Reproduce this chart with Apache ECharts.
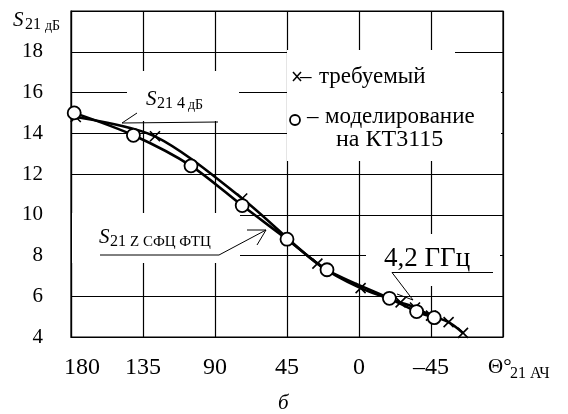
<!DOCTYPE html>
<html>
<head>
<meta charset="utf-8">
<script src="https://cdn.jsdelivr.net/npm/echarts@6/dist/echarts.min.js"></script>
<style>
  html, body { margin: 0; padding: 0; background: #fff; }
  #chart { width: 568px; height: 414px; }
</style>
</head>
<body>
<div id="chart"></div>
<script>
// требуемый (крестики)
const reqTheta = [177, 127.5, 73, 26, -1, -26, -35, -45, -56, -65];
const reqS21 = [14.8, 13.85, 10.8, 7.6, 6.4, 5.7, 5.45, 5.05, 4.73, 4.2];
// моделирование на КТ3115 (кружки)
const simTheta = [178, 141, 105, 73, 45, 20, -19, -36, -47];
const simS21 = [15.0, 13.9, 12.4, 10.45, 8.8, 7.3, 5.9, 5.25, 4.95];
// оси
const xMin = -90, xMax = 180, xStep = 45;
const yMin = 4, yMax = 20, yStep = 2;

const FONT = '"Liberation Serif", "Times New Roman", serif';

function pairs(xs, ys) {
  return xs.map((x, i) => [x, ys[i]]);
}

function txt(x, y, text, size, italic) {
  return {
    type: 'text', x: x, y: y, z: 100,
    style: {
      text: text,
      font: (italic ? 'italic ' : '') + size + 'px ' + FONT,
      fill: '#000',
      align: 'left',
      verticalAlign: 'middle'
    }
  };
}

function line(points, w) {
  return {
    type: 'polyline', z: 100,
    shape: { points: points },
    style: { stroke: '#000', lineWidth: w || 1, fill: null }
  };
}

function box(x, y, w, h) {
  return {
    type: 'rect', z: 1,
    shape: { x: x, y: y, width: w, height: h },
    style: { fill: '#fff' }
  };
}

let chart = echarts.init(document.getElementById('chart'));

let option = {
  backgroundColor: '#fff',
  animation: false,
  grid: {
    left: 71, right: 65, top: 11, bottom: 77,
    show: true, borderColor: '#000', borderWidth: 1.2, backgroundColor: '#fff'
  },
  xAxis: {
    type: 'value',
    min: xMin, max: xMax, interval: xStep,
    inverse: true,
    axisLine: { show: true, onZero: false, lineStyle: { color: '#000', width: 1.2 } },
    axisTick: { show: false },
    splitLine: { show: true, lineStyle: { color: '#000', width: 1.2 } },
    axisLabel: {
      color: '#000', fontFamily: FONT, fontSize: 24, margin: 19,
      formatter: function (v) {
        if (v === xMin) return '';
        if (v === 180) return '{f|180}';
        return v < 0 ? '\u2013' + Math.abs(v) : String(v);
      },
      rich: { f: { fontFamily: FONT, fontSize: 24, color: '#000', padding: [0, 0, 0, 22] } }
    }
  },
  yAxis: {
    type: 'value',
    min: yMin, max: yMax, interval: yStep,
    axisLine: { show: true, onZero: false, lineStyle: { color: '#000', width: 1.2 } },
    axisTick: { show: false },
    splitLine: { show: true, lineStyle: { color: '#000', width: 1.2 } },
    axisLabel: {
      color: '#000', fontFamily: FONT, fontSize: 21, margin: 28,
      formatter: function (v) { return v === yMax ? '' : String(v); }
    }
  },
  series: [
    {
      name: 'требуемый',
      type: 'line',
      data: pairs(reqTheta, reqS21),
      smooth: 0.3,
      symbol: 'path://M0,0L10,10M10,0L0,10',
      symbolSize: 10,
      itemStyle: { color: '#000', borderColor: '#000', borderWidth: 1.6 },
      lineStyle: { color: '#000', width: 2.6 },
      z: 3
    },
    {
      name: 'моделирование на КТ3115',
      type: 'line',
      data: pairs(simTheta, simS21),
      smooth: 0.3,
      symbol: 'circle',
      symbolSize: 13,
      itemStyle: { color: '#fff', borderColor: '#000', borderWidth: 1.8 },
      lineStyle: { color: '#000', width: 2.6 },
      z: 4
    }
  ],
  graphic: [
    // белые подложки под надписями
    box(127, 71, 112, 50),
    box(287, 50, 168, 111),
    box(455, 55, 46, 106),
    box(72, 213, 168, 50),
    box(366, 234, 134, 52),

    // подпись оси Y
    txt(13, 20, 'S', 21, true),
    txt(25, 25, '21', 16),
    txt(45, 26, 'дБ', 14),

    // подпись оси X
    txt(488, 367, 'Θ°', 21),
    txt(510, 374, '21 АЧ', 16),
    txt(278, 403, 'б', 21, true),

    // легенда
    line([[293, 72], [301, 81]], 1.5),
    line([[293, 81], [301, 72]], 1.5),
    txt(300, 77, '–', 23),
    txt(319, 77, 'требуемый', 23),
    { type: 'circle', z: 100, shape: { cx: 295, cy: 120, r: 5 },
      style: { stroke: '#000', lineWidth: 1.8, fill: '#fff' } },
    txt(307, 117, '–', 23),
    txt(325, 117, 'моделирование', 23),
    txt(336, 140, 'на КТ3115', 24),

    // S21 4 дБ
    txt(146, 99, 'S', 21, true),
    txt(157, 104, '21 4', 16),
    txt(188, 105, 'дБ', 14),
    line([[137, 113], [122, 123], [218, 122]]),

    // S21 Z СФЦ ФТЦ
    txt(99, 237, 'S', 21, true),
    txt(110, 242, '21', 16),
    txt(130, 242, 'Z СФЦ ФТЦ', 15),
    line([[100, 255], [219, 255], [266, 230]]),
    line([[247, 230], [266, 230], [257, 245]]),

    // 4,2 ГГц
    txt(384, 259, '4,2 ГГц', 27),
    line([[493, 272.5], [392, 272.5], [413, 300]]),
    line([[397, 294], [413, 300]])
  ]
};

chart.setOption(option);
</script>
</body>
</html>
